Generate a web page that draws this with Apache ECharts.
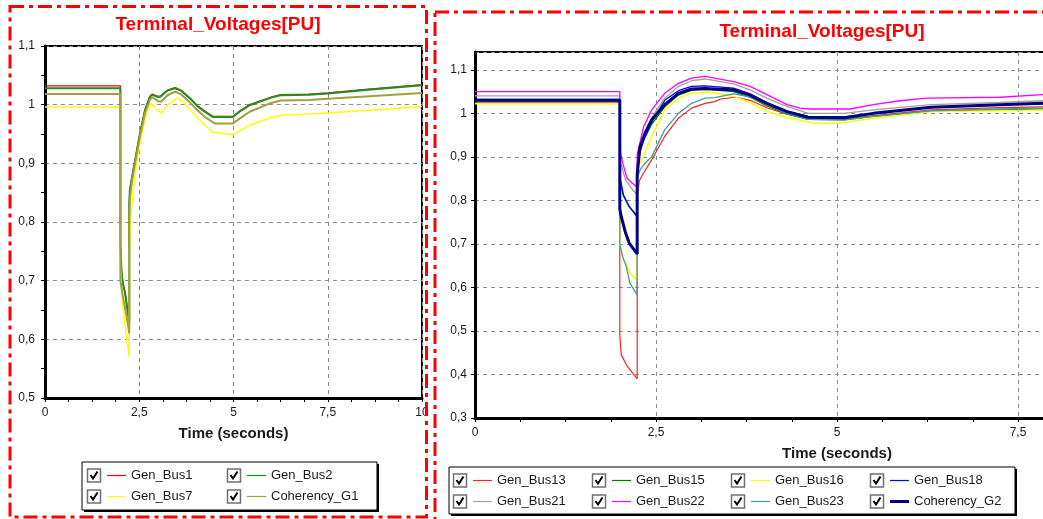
<!DOCTYPE html>
<html><head><meta charset="utf-8">
<script src="https://cdn.jsdelivr.net/npm/echarts@6/dist/echarts.min.js"></script>
<style>html,body{margin:0;padding:0;background:#fff;overflow:hidden}#c{width:1043px;height:519px}</style>
</head><body><div id="c"></div>
<script>
// ---------- texts ----------
const titleText = 'Terminal_Voltages[PU]';
const xAxisName = 'Time (seconds)';
const leftSeriesNames = ['Gen_Bus1', 'Gen_Bus2', 'Gen_Bus7', 'Coherency_G1'];
const rightSeriesNames = ['Gen_Bus13', 'Gen_Bus15', 'Gen_Bus16', 'Gen_Bus18', 'Gen_Bus21', 'Gen_Bus22', 'Gen_Bus23', 'Coherency_G2'];

// ---------- left panel data [time s, voltage pu] ----------
const genBus1 = [[0,1.032],[2.0,1.032],[2.0,0.763],[2.03,0.717],[2.06,0.699],[2.12,0.681],[2.2,0.646],[2.235,0.632],[2.235,0.83],[2.25,0.855],[2.31,0.878],[2.39,0.906],[2.52,0.952],[2.65,0.991],[2.78,1.014],[2.84,1.018],[2.95,1.015],[3.05,1.014],[3.25,1.025],[3.45,1.029],[3.6,1.025],[3.84,1.012],[4.05,0.998],[4.24,0.989],[4.45,0.98],[4.98,0.98],[5.2,0.991],[5.43,1.0],[6.0,1.013],[6.25,1.017],[7.0,1.018],[7.5,1.02],[8.5,1.026],[10,1.034]];
const genBus2 = [[0,1.028],[2.0,1.028],[2.0,0.761],[2.03,0.715],[2.06,0.697],[2.12,0.68],[2.2,0.645],[2.235,0.63],[2.235,0.83],[2.25,0.854],[2.31,0.877],[2.39,0.905],[2.52,0.951],[2.65,0.99],[2.78,1.013],[2.84,1.017],[2.95,1.014],[3.05,1.013],[3.25,1.024],[3.45,1.028],[3.6,1.024],[3.84,1.011],[4.05,0.997],[4.24,0.988],[4.45,0.979],[4.98,0.979],[5.2,0.99],[5.43,0.999],[6.0,1.012],[6.25,1.016],[7.0,1.017],[7.5,1.019],[8.5,1.025],[10,1.033]];
const genBus7 = [[0,0.996],[2.0,0.996],[2.0,0.73],[2.03,0.68],[2.08,0.65],[2.15,0.61],[2.235,0.57],[2.235,0.75],[2.27,0.8],[2.33,0.85],[2.41,0.89],[2.52,0.935],[2.65,0.975],[2.75,0.995],[2.8,1.002],[2.9,0.997],[3.0,0.99],[3.1,0.986],[3.25,1.0],[3.5,1.011],[3.65,1.006],[3.84,0.992],[4.05,0.977],[4.24,0.965],[4.45,0.953],[4.98,0.949],[5.2,0.957],[5.43,0.965],[6.0,0.978],[6.25,0.982],[7.0,0.984],[7.5,0.986],[8.5,0.99],[10,0.997]];
const coherencyG1 = [[0,1.018],[2.0,1.018],[2.0,0.7],[2.06,0.675],[2.12,0.655],[2.2,0.625],[2.235,0.61],[2.235,0.8],[2.25,0.84],[2.31,0.87],[2.39,0.9],[2.52,0.946],[2.65,0.985],[2.78,1.008],[2.84,1.013],[3.0,1.006],[3.08,1.005],[3.25,1.016],[3.45,1.022],[3.6,1.018],[3.84,1.004],[4.05,0.99],[4.24,0.979],[4.5,0.968],[4.98,0.968],[5.2,0.978],[5.43,0.988],[6.0,1.003],[6.25,1.007],[7.0,1.008],[7.5,1.01],[8.5,1.014],[10,1.02]];

// ---------- right panel data [time s, voltage pu] ----------
const genBus13 = [[0,1.026],[2.0,1.026],[2.0,0.491],[2.02,0.445],[2.1,0.42],[2.24,0.39],[2.24,0.806],[2.27,0.845],[2.3,0.855],[2.44,0.893],[2.62,0.947],[2.81,0.989],[2.99,1.012],[3.18,1.023],[3.31,1.027],[3.39,1.033],[3.6,1.037],[3.8,1.03],[4.03,1.013],[4.31,0.998],[4.6,0.988],[5.1,0.987],[5.5,0.995],[6.3,1.008],[7.25,1.013],[7.85,1.015],[10,1.018]];
const genBus15 = [[0,1.028],[2.0,1.028],[2.0,0.845],[2.05,0.81],[2.13,0.785],[2.24,0.765],[2.24,0.87],[2.28,0.915],[2.35,0.945],[2.44,0.975],[2.62,1.015],[2.81,1.042],[2.99,1.053],[3.18,1.055],[3.57,1.05],[3.8,1.037],[4.03,1.017],[4.31,0.998],[4.6,0.986],[5.1,0.985],[5.5,0.993],[6.3,1.005],[7.25,1.008],[7.85,1.01],[10,1.012]];
const genBus16 = [[0,1.022],[2.0,1.022],[2.0,0.7],[2.04,0.671],[2.14,0.633],[2.24,0.615],[2.24,0.86],[2.26,0.878],[2.44,0.947],[2.62,1.008],[2.81,1.035],[2.99,1.046],[3.18,1.049],[3.31,1.047],[3.57,1.039],[3.8,1.025],[4.03,1.005],[4.31,0.99],[4.7,0.977],[5.0,0.977],[5.5,0.989],[6.3,1.004],[7.25,1.006],[7.85,1.008],[10,1.01]];
const genBus18 = [[0,1.032],[2.0,1.032],[2.0,0.855],[2.05,0.813],[2.13,0.786],[2.24,0.762],[2.24,0.88],[2.26,0.9],[2.33,0.94],[2.44,0.98],[2.62,1.03],[2.81,1.052],[2.99,1.062],[3.18,1.063],[3.57,1.058],[3.8,1.045],[4.03,1.025],[4.31,1.005],[4.6,0.993],[5.1,0.992],[5.5,1.0],[6.3,1.014],[7.25,1.02],[7.85,1.022],[10,1.025]];
const genBus21 = [[0,1.04],[2.0,1.04],[2.0,0.893],[2.08,0.847],[2.16,0.828],[2.24,0.813],[2.24,0.89],[2.26,0.91],[2.33,0.95],[2.44,0.99],[2.62,1.035],[2.81,1.062],[2.99,1.075],[3.18,1.079],[3.57,1.068],[3.8,1.054],[4.03,1.035],[4.24,1.02],[4.6,1.0],[5.1,1.0],[5.5,1.008],[6.3,1.02],[7.25,1.025],[7.85,1.029],[10,1.033]];
const genBus22 = [[0,1.05],[2.0,1.05],[2.0,0.916],[2.05,0.88],[2.1,0.851],[2.17,0.84],[2.24,0.831],[2.24,0.905],[2.26,0.92],[2.33,0.97],[2.44,1.008],[2.62,1.046],[2.81,1.069],[2.99,1.081],[3.18,1.085],[3.57,1.073],[3.8,1.062],[4.03,1.043],[4.31,1.02],[4.49,1.012],[4.63,1.01],[5.18,1.01],[5.5,1.02],[5.87,1.029],[6.24,1.035],[7.25,1.037],[7.85,1.043],[10,1.046]];
const genBus23 = [[0,1.027],[2.0,1.027],[2.0,0.7],[2.04,0.67],[2.09,0.648],[2.14,0.61],[2.24,0.583],[2.24,0.85],[2.28,0.87],[2.35,0.886],[2.44,0.9],[2.62,0.962],[2.81,1.0],[2.99,1.023],[3.18,1.035],[3.31,1.036],[3.57,1.045],[3.8,1.038],[4.03,1.02],[4.31,1.0],[4.6,0.986],[5.1,0.985],[5.5,0.993],[6.3,1.006],[7.25,1.01],[7.85,1.012],[10,1.015]];
const coherencyG2 = [[0,1.03],[2.0,1.03],[2.0,0.78],[2.02,0.763],[2.08,0.725],[2.13,0.702],[2.24,0.677],[2.24,0.86],[2.28,0.924],[2.35,0.955],[2.44,0.985],[2.62,1.02],[2.81,1.046],[2.99,1.056],[3.18,1.057],[3.31,1.056],[3.57,1.054],[3.8,1.042],[4.03,1.023],[4.31,1.004],[4.6,0.991],[5.1,0.99],[5.5,1.0],[6.3,1.014],[7.25,1.02],[7.85,1.023],[10,1.026]];

const leftData = [genBus1, genBus2, genBus7, coherencyG1];
const rightData = [genBus13, genBus15, genBus16, genBus18, genBus21, genBus22, genBus23, coherencyG2];

// ---------- styles ----------
const leftStyles = [
  {color:'#ff0000', width:1.3},
  {color:'#1f8f1f', width:2},
  {color:'#ffff00', width:1.5},
  {color:'#a0a03c', width:2}
];
const rightStyles = [
  {color:'#ff2020', width:1.2},
  {color:'#008000', width:1.3},
  {color:'#ffff00', width:1.5},
  {color:'#0000ff', width:1.3},
  {color:'#a0a0a0', width:1.3},
  {color:'#ff00ff', width:1.3},
  {color:'#3ca0a0', width:1.3},
  {color:'#000080', width:3}
];

const FONT = '"Liberation Sans", Arial, sans-serif';
const fmt = v => String(Math.round(v * 100) / 100).replace('.', ',');

function xAxisCfg(gi) {
  return {
    gridIndex: gi, type: 'value', min: 0, max: 10, interval: 2.5,
    name: xAxisName, nameLocation: 'middle', nameGap: 28,
    nameTextStyle: {fontFamily: FONT, fontWeight: 'bold', fontSize: 15, color: '#1a1a1a'},
    axisLine: {show: true, onZero: false, lineStyle: {color: '#000', width: 3}},
    axisTick: {show: true, length: 4, lineStyle: {color: '#000'}},
    minorTick: {show: true, splitNumber: 4, length: 4, lineStyle: {color: '#000'}},
    splitLine: {show: true, lineStyle: {color: '#8c8c8c', width: 1, type: [4, 4]}},
    axisLabel: {formatter: fmt, fontFamily: FONT, fontSize: 12, color: '#1a1a1a', margin: 9}
  };
}
function yAxisCfg(gi, min, max, minor, margin) {
  return {
    gridIndex: gi, type: 'value', min: min, max: max, interval: 0.1,
    axisLine: {show: true, onZero: false, lineStyle: {color: '#000', width: 3}},
    axisTick: {show: true, length: 4, lineStyle: {color: '#000'}},
    minorTick: {show: minor, splitNumber: 2, length: 4, lineStyle: {color: '#000'}},
    splitLine: {show: true, lineStyle: {color: '#8c8c8c', width: 1, type: [4, 4]}},
    axisLabel: {formatter: fmt, fontFamily: FONT, fontSize: 12, color: '#1a1a1a', margin: margin, showMaxLabel: max < 1.12}
  };
}

const series = [];
leftData.forEach((d, i) => series.push({
  name: leftSeriesNames[i], type: 'line', xAxisIndex: 0, yAxisIndex: 0, data: d,
  showSymbol: false, symbol: 'none', z: 2 + i,
  lineStyle: {color: leftStyles[i].color, width: leftStyles[i].width}, itemStyle: {color: leftStyles[i].color}
}));
rightData.forEach((d, i) => series.push({
  name: rightSeriesNames[i], type: 'line', xAxisIndex: 1, yAxisIndex: 1, data: d,
  showSymbol: false, symbol: 'none', z: 2 + i,
  lineStyle: {color: rightStyles[i].color, width: rightStyles[i].width}, itemStyle: {color: rightStyles[i].color}
}));

// ---------- graphic: panel borders, titles, legends ----------
const graphic = [];
const dashStyle = {fill: 'none', stroke: '#ff0000', lineWidth: 3, lineDash: [14, 5, 4, 5]};
graphic.push({type: 'rect', z: 100, shape: {x: 10, y: 6.5, width: 416.5, height: 510.5}, style: dashStyle});
graphic.push({type: 'rect', z: 100, shape: {x: 435, y: 12, width: 700, height: 600}, style: dashStyle});
graphic.push({type: 'text', z: 100, x: 218, y: 25, style: {text: titleText, font: 'bold 19px ' + FONT, fill: '#ff0000', align: 'center', verticalAlign: 'middle'}});
graphic.push({type: 'text', z: 100, x: 822, y: 32, style: {text: titleText, font: 'bold 19px ' + FONT, fill: '#ff0000', align: 'center', verticalAlign: 'middle'}});

function addLegend(box, cols, rows, names, styles) {
  graphic.push({type: 'rect', z: 100, shape: {x: box.x + 2, y: box.y + 2, width: box.w, height: box.h}, style: {fill: '#000'}});
  graphic.push({type: 'rect', z: 101, shape: {x: box.x, y: box.y, width: box.w, height: box.h}, style: {fill: '#fff', stroke: '#000', lineWidth: 1}});
  names.forEach((n, i) => {
    const cx = cols[i % cols.length], ry = rows[Math.floor(i / cols.length)];
    graphic.push({type: 'rect', z: 102, shape: {x: cx + 0.5, y: ry - 6.5, width: 13, height: 13}, style: {fill: '#fff', stroke: '#707070', lineWidth: 1.5}});
    graphic.push({type: 'polyline', z: 103, shape: {points: [[cx + 3.5, ry - 0.5], [cx + 6, ry + 3], [cx + 10.5, ry - 4]]}, style: {fill: 'none', stroke: '#000', lineWidth: 2}});
    graphic.push({type: 'line', z: 102, shape: {x1: cx + 20, y1: ry, x2: cx + 39, y2: ry}, style: {stroke: styles[i].color, lineWidth: styles[i].width >= 3 ? 3 : 1.2}});
    graphic.push({type: 'text', z: 102, x: cx + 44, y: ry, style: {text: n, font: '13px ' + FONT, fill: '#1a1a1a', align: 'left', verticalAlign: 'middle'}});
  });
}
addLegend({x: 82, y: 462, w: 295, h: 48}, [87, 227], [475.5, 496.5], leftSeriesNames, leftStyles);
addLegend({x: 449, y: 467, w: 566, h: 47}, [453, 592, 731, 870], [480.5, 501.5], rightSeriesNames, rightStyles);

const chart = echarts.init(document.getElementById('c'), null, {renderer: 'canvas'});
chart.setOption({
  animation: false,
  backgroundColor: '#fff',
  grid: [
    {left: 45, top: 46, width: 377, height: 352, show: true, borderColor: '#000', borderWidth: 2, backgroundColor: '#fff', containLabel: false, outerBoundsMode: 'none'},
    {left: 475, top: 52, width: 724, height: 366, show: true, borderColor: '#000', borderWidth: 2, backgroundColor: '#fff', containLabel: false, outerBoundsMode: 'none'}
  ],
  xAxis: [xAxisCfg(0), xAxisCfg(1)],
  yAxis: [yAxisCfg(0, 0.5, 1.1, true, 10), yAxisCfg(1, 0.3, 1.141, false, 8)],
  series: series,
  graphic: graphic
});
</script></body></html>
